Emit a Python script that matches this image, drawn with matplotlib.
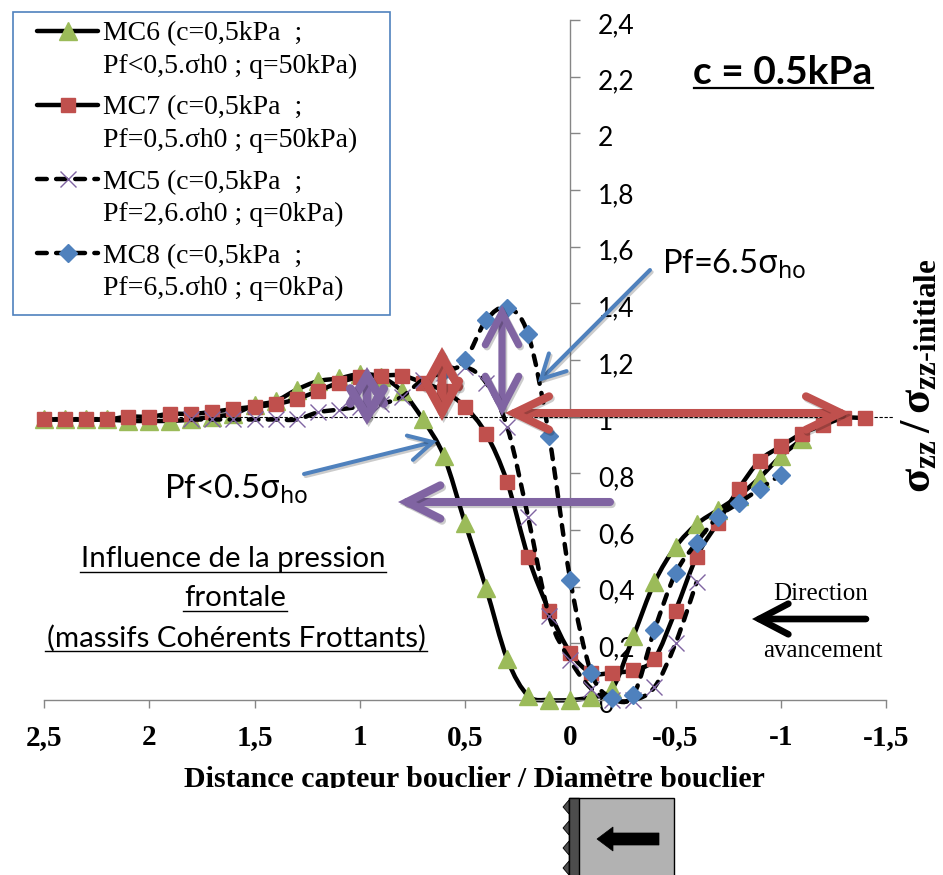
import numpy as np
import matplotlib
matplotlib.use('Agg')
import matplotlib.pyplot as plt
import matplotlib.patheffects as pe
from matplotlib.lines import Line2D
from matplotlib.patches import PathPatch, Polygon, Rectangle, FancyArrowPatch
from matplotlib.path import Path
from matplotlib.transforms import ScaledTranslation

plt.rcParams['mathtext.fontset'] = 'custom'
plt.rcParams['mathtext.rm'] = 'Noto Sans'
plt.rcParams['mathtext.it'] = 'Noto Sans'
plt.rcParams['mathtext.bf'] = 'Liberation Serif:bold'

# Values
mc6_x = [2.5, 2.4, 2.3, 2.2, 2.1, 2.0, 1.9, 1.8, 1.7, 1.6, 1.5, 1.4, 1.3, 1.2, 1.1, 1.0, 0.9, 0.8, 0.7, 0.6, 0.5,
         0.4, 0.3, 0.2, 0.1, 0.0, -0.1, -0.2, -0.3, -0.4, -0.5, -0.6, -0.7, -0.8, -0.9, -1.0, -1.1]
mc6_y = [0.99, 0.99, 0.99, 0.99, 0.985, 0.985, 0.985, 0.99, 1.0, 1.01, 1.04, 1.055, 1.095, 1.125, 1.135, 1.15, 1.14,
         1.09, 0.99, 0.86, 0.625, 0.395, 0.145, 0.015, 0.0, 0.0, 0.01, 0.04, 0.225, 0.415, 0.54, 0.62, 0.67, 0.72,
         0.785, 0.86, 0.92]

mc7_x = [2.5, 2.4, 2.3, 2.2, 2.1, 2.0, 1.9, 1.8, 1.7, 1.6, 1.5, 1.4, 1.3, 1.2, 1.1, 1.0, 0.9, 0.8, 0.7, 0.6, 0.5,
         0.4, 0.3, 0.2, 0.1, 0.0, -0.1, -0.2, -0.3, -0.4, -0.5, -0.6, -0.7, -0.8, -0.9, -1.0, -1.1, -1.2, -1.3, -1.4]
mc7_y = [0.99, 0.99, 0.99, 0.99, 1.0, 1.0, 1.01, 1.01, 1.017, 1.027, 1.035, 1.044, 1.062, 1.09, 1.12, 1.14, 1.145,
         1.145, 1.12, 1.09, 1.035, 0.94, 0.77, 0.505, 0.315, 0.167, 0.096, 0.096, 0.106, 0.146, 0.315, 0.505, 0.625,
         0.745, 0.845, 0.895, 0.94, 0.97, 0.995, 0.995]

mc5_x = [1.8, 1.7, 1.6, 1.5, 1.4, 1.3, 1.2, 1.1, 1.0, 0.9, 0.8, 0.7, 0.6, 0.5, 0.4, 0.3, 0.2, 0.1, 0.0, -0.1, -0.2,
         -0.3, -0.4, -0.5, -0.6]
mc5_y = [0.99, 0.99, 0.99, 0.99, 0.99, 0.99, 1.015, 1.025, 1.035, 1.045, 1.07, 1.13, 1.155, 1.175, 1.12, 0.965,
         0.645, 0.296, 0.14, 0.04, 0.0, 0.0, 0.045, 0.2, 0.415]

mc8_x = [0.6, 0.5, 0.4, 0.3, 0.2, 0.1, 0.0, -0.1, -0.2, -0.3, -0.4, -0.5, -0.6, -0.7, -0.8, -0.9, -1.0]
mc8_y = [1.16, 1.20, 1.34, 1.385, 1.29, 0.93, 0.424, 0.096, 0.007, 0.018, 0.247, 0.447, 0.555, 0.645, 0.695, 0.745,
         0.795]

ref_x = [2.5, -1.54]
ref_y = [1, 1]

x_ticks = [2.5, 2, 1.5, 1, 0.5, 0, -0.5, -1, -1.5]
x_labels = ['2,5', '2', '1,5', '1', '0,5', '0', '-0,5', '-1', '-1,5']
y_ticks = [0, 0.2, 0.4, 0.6, 0.8, 1, 1.2, 1.4, 1.6, 1.8, 2, 2.2, 2.4]
y_labels = ['0', '0,2', '0,4', '0,6', '0,8', '1', '1,2', '1,4', '1,6', '1,8', '2', '2,2', '2,4']

names = ['MC6 (c=0,5kPa  ;\nPf<0,5.σh0 ; q=50kPa)',
         'MC7 (c=0,5kPa  ;\nPf=0,5.σh0 ; q=50kPa)',
         'MC5 (c=0,5kPa  ;\nPf=2,6.σh0 ; q=0kPa)',
         'MC8 (c=0,5kPa  ;\nPf=6,5.σh0 ; q=0kPa)']

GREEN, RED, PURPLE, BLUE = '#9BBB59', '#C0504D', '#8064A2', '#4F81BD'
SERIF = 'Liberation Serif'
SANS = 'Lato'
DASH = (0, (2.2, 2.1))


def smooth_path(x, y):
    """Same kind of smoothed line as the spreadsheet: one bezier between each pair of points."""
    pts = np.column_stack([x, y])
    verts = [pts[0]]
    codes = [Path.MOVETO]
    n = len(pts)
    for i in range(n - 1):
        before = pts[max(i - 1, 0)]
        after = pts[min(i + 2, n - 1)]
        verts.append(pts[i] + (pts[i + 1] - before) / 6)
        verts.append(pts[i + 1] - (after - pts[i]) / 6)
        verts.append(pts[i + 1])
        codes += [Path.CURVE4] * 3
    return Path(verts, codes)


fig = plt.figure(figsize=(9.43, 8.75), dpi=100)
ax = fig.add_axes([44 / 943, 1 - 700 / 875, 842 / 943, 680 / 875])
ax.set_xlim(2.5, -1.5)
ax.set_ylim(0, 2.4)
ax.patch.set_alpha(0)

ax.plot(ref_x, ref_y, color='black', lw=0.8, ls=(0, (3, 1.5)), zorder=1, clip_on=False)

# x, y, line style, marker options
series = [
    (mc6_x, mc6_y, '-', dict(marker='^', ms=12.5, mfc=GREEN, mec=GREEN)),
    (mc7_x, mc7_y, '-', dict(marker='s', ms=10.5, mfc=RED, mec=RED)),
    (mc5_x, mc5_y, DASH, dict(marker='x', ms=11.5, mec=PURPLE, mew=1.0)),
    (mc8_x, mc8_y, DASH, dict(marker='D', ms=9, mfc=BLUE, mec=BLUE)),
]
handles = []
for i, (x, y, style, mk) in enumerate(series):
    ax.add_patch(PathPatch(smooth_path(x, y), fill=False, ec='black', lw=3.2, ls=style, capstyle='round',
                           zorder=2 + 2 * i, clip_on=False))
    ax.plot(x, y, ls='none', zorder=3 + 2 * i, clip_on=False, **mk)
    handles.append(Line2D([], [], color='black', lw=3.2, ls=style, dash_capstyle='round',
                          solid_capstyle='round', **mk))

for side in ['top', 'left']:
    ax.spines[side].set_visible(False)
ax.spines['right'].set_position(('data', 0))
ax.spines['right'].set_color('#868686')
ax.spines['bottom'].set_color('#868686')
ax.spines['right'].set_linewidth(1.0)
ax.spines['bottom'].set_linewidth(1.0)
ax.yaxis.tick_right()
ax.set_xticks(x_ticks, x_labels, fontfamily=SERIF, fontweight='bold', fontsize=21)
ax.set_yticks(y_ticks, y_labels, fontfamily=SANS, fontsize=19)
ax.tick_params(axis='x', direction='out', length=6, width=1, color='#868686', pad=11)
ax.tick_params(axis='y', direction='out', length=7, width=1, color='#868686', pad=13)
for lab in ax.get_yticklabels():
    lab.set_transform(lab.get_transform() + ScaledTranslation(0, -3 / 100, fig.dpi_scale_trans))
ax.set_xlabel('Distance capteur bouclier / Diamètre bouclier', fontfamily=SERIF, fontweight='bold', fontsize=21.5)
ax.xaxis.set_label_coords(474 / 943, 1 - 787 / 875, transform=fig.transFigure)
ax.xaxis.label.set_va('baseline')
ax.set_ylabel(r'$\mathbf{\sigma_{zz}\,/\,\sigma_{zz\mathrm{\text{-}}initiale}}$', fontsize=32, rotation=90)
ax.yaxis.set_label_coords(917 / 943, 1 - 376 / 875, transform=fig.transFigure)
ax.yaxis.label.set_va('center')

# overlay in picture pixels for everything drawn on top of the chart
ov = fig.add_axes([0, 0, 1, 1])
ov.set_xlim(0, 943)
ov.set_ylim(875, 0)
ov.axis('off')
ov.patch.set_alpha(0)

ov.add_patch(Rectangle((13, 12), 377, 303, fc='white', ec=BLUE, lw=1.2, zorder=1))
leg = ov.legend(handles, names, loc='upper left', bbox_to_anchor=(29, 13), bbox_transform=ov.transData,
                frameon=False, prop={'family': SERIF, 'size': 20}, handlelength=2.2, handletextpad=0.18,
                labelspacing=0.6, borderpad=0.3, borderaxespad=0)
leg.set_zorder(2)
for t in leg.get_texts():
    t.set_linespacing(1.38)
# the spreadsheet puts the key on the first line of the two
for h in leg.legend_handles:
    h.set_ydata(np.asarray(h.get_ydata()) + 13.5)


def arrow(start, end, color, lw, style, shadow=True, z=6):
    effects = [pe.SimpleLineShadow(offset=(1.2, -1.5), shadow_color='black', alpha=0.2), pe.Normal()] if shadow else []
    ov.add_patch(FancyArrowPatch(start, end, arrowstyle=style, color=color, lw=lw, mutation_scale=10, shrinkA=0,
                                 shrinkB=0, capstyle='round', joinstyle='miter', path_effects=effects, zorder=z))


arrow((505, 413), (850, 413), RED, 5.8, '<->,head_length=2.5,head_width=1.2')
arrow((442, 347), (442, 421), RED, 6.4, '<->,head_length=2.2,head_width=1.2')
arrow((367, 367), (367, 425), PURPLE, 6.4, '<->,head_length=2.0,head_width=1.2')
arrow((502, 305), (502, 416), PURPLE, 5.2, '<->,head_length=2.3,head_width=1.2')
arrow((610, 502), (398, 502), PURPLE, 5.8, '->,head_length=2.4,head_width=1.2')
arrow((650, 270), (538, 382), BLUE, 2.9, '->,head_length=1.7,head_width=0.9', z=7)
arrow((304, 474), (437, 441), BLUE, 2.9, '->,head_length=1.7,head_width=0.9', z=7)
arrow((866, 619), (752, 619), 'black', 4.8, '->,head_length=2.1,head_width=1.1', shadow=False)

ov.text(783, 72, 'c = 0.5kPa', family=SANS, weight='bold', fontsize=28, ha='center', va='center')
ov.plot([694, 873], [88, 88], color='black', lw=1.6)

ov.text(662, 264, r'Pf=6.5$\mathrm{\sigma_{ho}}$', family=SANS, fontsize=23.5, ha='left', va='center', zorder=8)
ov.text(164, 489, r'Pf<0.5$\mathrm{\sigma_{ho}}$', family=SANS, fontsize=23.5, ha='left', va='center', zorder=8)

note_lines = ['Influence de la pression', 'frontale', '(massifs Cohérents Frottants)']
note_y = [559, 598, 638]
note_under = [(80, 386, 572), (183, 287, 611), (45, 427, 651)]
for line, yy, (x0, x1, yu) in zip(note_lines, note_y, note_under):
    ov.text((x0 + x1) / 2, yy, line, family=SANS, fontsize=21.2, ha='center', va='center')
    ov.plot([x0, x1], [yu, yu], color='black', lw=1.0)

ov.text(821, 594, 'Direction', family=SERIF, fontsize=18, ha='center', va='center')
ov.text(823, 651, 'avancement', family=SERIF, fontsize=18, ha='center', va='center')

# the source picture cuts the axis title off just under the baseline
ov.add_patch(Rectangle((0, 788), 943, 87, fc='white', ec='none', zorder=3))

# shield sketch under the chart
ov.add_patch(Rectangle((569, 798), 105, 80, fc='#B2B2B2', ec='black', lw=1, zorder=4))
ov.add_patch(Rectangle((569, 798), 10, 80, fc='#4D4D4D', ec='black', lw=1, zorder=4))
for yy in [807, 828, 848, 868]:
    ov.add_patch(Polygon([(569, yy - 7), (563, yy), (569, yy + 7)], fc='#4D4D4D', ec='black', lw=0.6, zorder=4))
ov.add_patch(Polygon([(597, 839), (613, 827), (613, 833), (659, 833), (659, 845), (613, 845), (613, 851)],
                     fc='black', ec='black', lw=0.5, zorder=5))

fig.savefig('out.png', dpi=100)
